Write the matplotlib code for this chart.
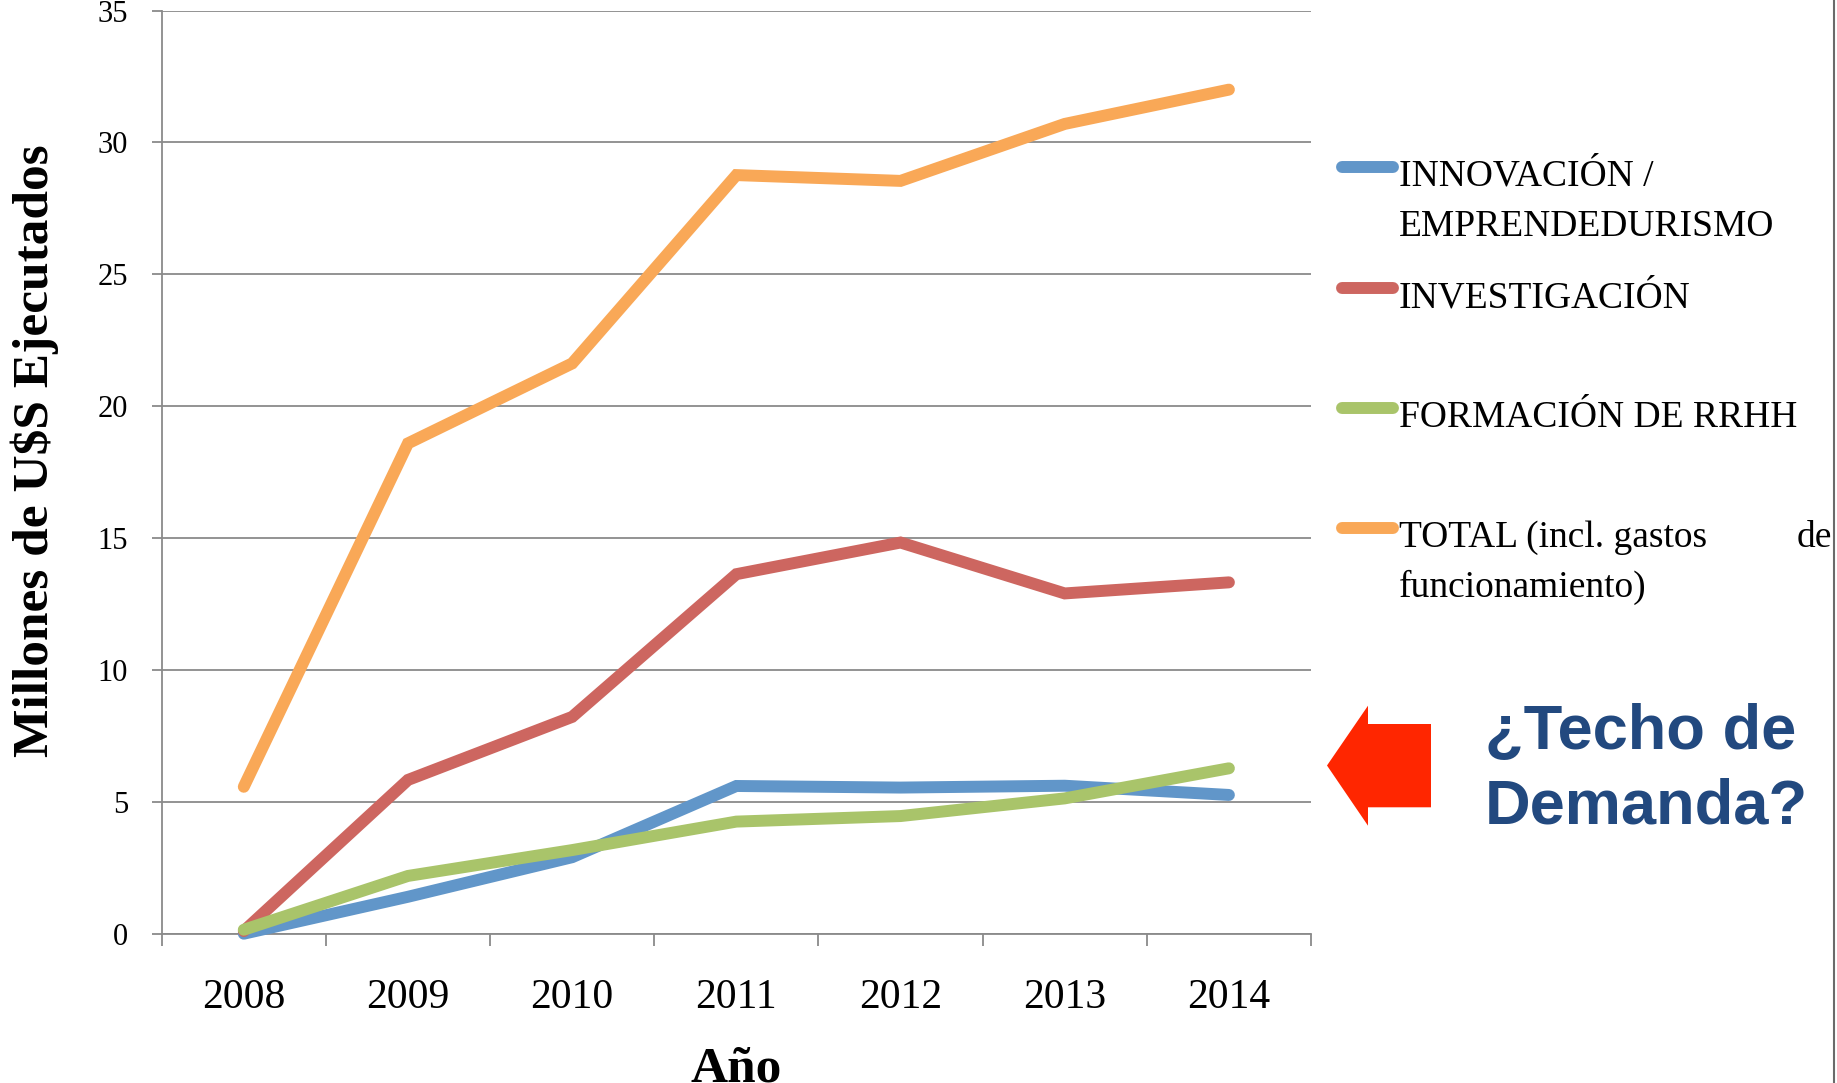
import matplotlib
matplotlib.use("Agg")
import matplotlib.pyplot as plt
from matplotlib.lines import Line2D
from matplotlib.patches import Polygon

# ---------------- data ----------------
years = ["2008", "2009", "2010", "2011", "2012", "2013", "2014"]
innovacion = [0.0, 1.40, 2.90, 5.60, 5.54, 5.61, 5.26]
investigacion = [0.10, 5.83, 8.22, 13.63, 14.83, 12.90, 13.32]
formacion = [0.15, 2.19, 3.17, 4.25, 4.46, 5.13, 6.27]
total = [5.57, 18.59, 21.62, 28.76, 28.54, 30.70, 32.00]

series_labels = ["INNOVACIÓN /\nEMPRENDEDURISMO", "INVESTIGACIÓN",
                 "FORMACIÓN DE RRHH", "TOTAL (incl. gastos de\nfuncionamiento)"]
series_colors = ["#6196C9", "#CD6660", "#A9C46A", "#F9A857"]
yticks = [0, 5, 10, 15, 20, 25, 30, 35]

W, H = 1837, 1083
fig = plt.figure(figsize=(W / 100, H / 100), dpi=100)
fig.patch.set_facecolor("white")


def fx(px):
    return px / W


def fy(py):
    return 1 - py / H


left, right, top, bottom = 161.7, 1311.0, 10.5, 933.7
ax = fig.add_axes([fx(left), fy(bottom), fx(right - left), (bottom - top) / H])

GRID = "#8a8a8a"
serif = "Liberation Serif"

x = list(range(len(years)))
all_series = [innovacion, investigacion, formacion, total]
for vals, col in zip(all_series, series_colors):
    ax.plot(x, vals, color=col, lw=8.6, solid_capstyle="round",
            solid_joinstyle="miter", clip_on=False, zorder=3)

ax.set_xlim(-0.5, len(years) - 0.5)
ax.set_ylim(0, 35)
ax.set_yticks(yticks)
ax.set_yticklabels([str(v) for v in yticks], fontfamily=serif, fontsize=22)
ax.set_xticks(x)
ax.set_xticklabels(years, fontfamily=serif, fontsize=30)
ax.set_xticks([i - 0.5 for i in range(len(years) + 1)], minor=True)

ax.tick_params(axis="x", which="major", length=0, pad=32)
ax.tick_params(axis="x", which="minor", length=8.6, width=1.3, color=GRID, direction="out")
ax.tick_params(axis="y", length=7.2, width=1.3, color=GRID, pad=17, direction="out")

ax.yaxis.grid(True, color=GRID, lw=1.3, zorder=0)
ax.set_axisbelow(True)
for s in ["top", "right"]:
    ax.spines[s].set_visible(False)
for s in ["left", "bottom"]:
    ax.spines[s].set_color(GRID)
    ax.spines[s].set_linewidth(1.3)

# axis titles
fig.text(fx(35), fy(451), "Millones de U$S Ejecutados", rotation=90,
         ha="center", va="center", fontfamily=serif, fontweight="bold", fontsize=37)
fig.text(fx(736), fy(1081), "Año", ha="center", va="baseline",
         fontfamily=serif, fontweight="bold", fontsize=37)

# manual legend
handle_y = [167, 288, 408, 528]
for lab, col, hy in zip(series_labels, series_colors, handle_y):
    fig.add_artist(Line2D([fx(1342), fx(1393)], [fy(hy), fy(hy)], color=col,
                          lw=8.6, solid_capstyle="round",
                          transform=fig.transFigure))
    lines = lab.split("\n")
    for k, ln in enumerate(lines):
        by = hy + 19 + 50 * k
        if k == 0 and len(lines) > 1 and ln.endswith(" de"):
            fig.text(fx(1399), fy(by), ln[:-3], ha="left", va="baseline",
                     fontfamily=serif, fontsize=27)
            fig.text(fx(1832), fy(by), "de", ha="right", va="baseline",
                     fontfamily=serif, fontsize=27)
        else:
            fig.text(fx(1399), fy(by), ln, ha="left", va="baseline",
                     fontfamily=serif, fontsize=27)

# red arrow
arrow_px = [(1327, 765.5), (1368, 705.7), (1368, 724), (1431, 724),
            (1431, 807.3), (1368, 807.3), (1368, 825.7)]
fig.add_artist(Polygon([(fx(a), fy(b)) for a, b in arrow_px], closed=True,
                       facecolor="#FF2600", edgecolor="none",
                       transform=fig.transFigure))

fig.text(fx(1485), fy(749), "¿Techo de", ha="left", va="baseline",
         fontfamily="Liberation Sans", fontweight="bold", fontsize=45.5, color="#22497F")
fig.text(fx(1485), fy(824), "Demanda?", ha="left", va="baseline",
         fontfamily="Liberation Sans", fontweight="bold", fontsize=45.5, color="#22497F")

# right border line of slide
fig.add_artist(Line2D([fx(1834), fx(1834)], [0, 1], color="#6a6a6a", lw=1.5,
                      transform=fig.transFigure))

fig.savefig("out.png", dpi=100)
